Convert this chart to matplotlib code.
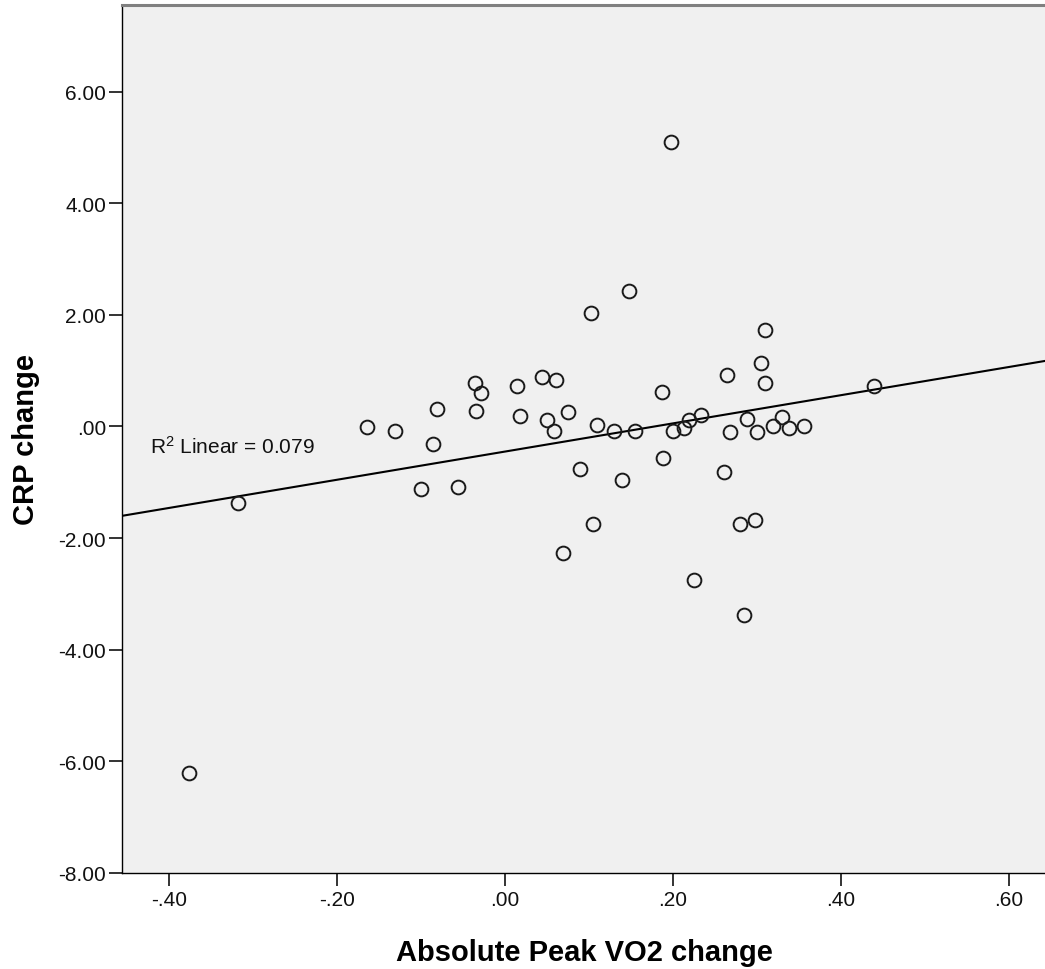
import numpy as np
import matplotlib
matplotlib.use("Agg")
import matplotlib.pyplot as plt
from matplotlib.ticker import FuncFormatter

plt.rcParams['font.family'] = ['Liberation Sans', 'DejaVu Sans']
plt.rcParams['mathtext.fontset'] = 'custom'
plt.rcParams['mathtext.rm'] = 'Liberation Sans'
plt.rcParams['mathtext.it'] = 'Liberation Sans'

# values
vo2_change = [-0.376, -0.318, -0.164, -0.130, -0.081, -0.085, -0.100, -0.055,
              -0.035, -0.028, -0.034, 0.015, 0.018, 0.045, 0.061, 0.051,
              0.059, 0.075, 0.110, 0.130, 0.155, 0.187, 0.200, 0.214,
              0.220, 0.234, 0.265, 0.305, 0.310, 0.310, 0.289, 0.268,
              0.300, 0.320, 0.330, 0.339, 0.357, 0.440, 0.090, 0.140,
              0.188, 0.261, 0.105, 0.070, 0.280, 0.298, 0.226, 0.285,
              0.198, 0.148, 0.103]
crp_change = [-6.21, -1.37, -0.01, -0.08, 0.31, -0.31, -1.12, -1.08,
              0.78, 0.60, 0.27, 0.73, 0.18, 0.88, 0.83, 0.11,
              -0.08, 0.25, 0.03, -0.08, -0.08, 0.62, -0.09, -0.02,
              0.12, 0.21, 0.92, 1.13, 1.72, 0.77, 0.13, -0.10,
              -0.10, 0.00, 0.17, -0.02, 0.00, 0.72, -0.76, -0.96,
              -0.56, -0.81, -1.75, -2.27, -1.75, -1.67, -2.75, -3.37,
              5.09, 2.43, 2.03]
r2_text = "R$^2$ Linear = 0.079"

x = np.array(vo2_change)
y = np.array(crp_change)

fig = plt.figure(figsize=(10.45, 9.70), dpi=100)
ax = fig.add_axes([0.1167, 0.099, 0.8843, 0.8948])
ax.set_facecolor('#f0f0f0')

ax.plot(x, y, 'o', ms=9.9, mfc='none', mec='#1a1a1a', mew=1.4, zorder=3)

# least squares fit line across the whole axis
xlim = (-0.4557, 0.6447)
slope, icpt = np.polyfit(x, y, 1)
xs = np.array(xlim)
ax.plot(xs, slope * xs + icpt, color='black', lw=1.5, zorder=2)

ax.set_xlim(*xlim)
ax.set_ylim(-8, 7.55)
ax.set_xticks(np.arange(-0.4, 0.61, 0.2))
ax.set_yticks(np.arange(-8, 6.1, 2))


def spss_fmt(v, pos):
    s = f"{v:.2f}"
    if s == "-0.00":
        s = "0.00"
    return s.replace("0.", ".", 1) if s.lstrip('-').startswith("0.") else s


ax.xaxis.set_major_formatter(FuncFormatter(spss_fmt))
ax.yaxis.set_major_formatter(FuncFormatter(spss_fmt))
ax.tick_params(axis='both', direction='out', length=9.5, width=1.4,
               color='#333333', labelsize=15, labelcolor='#111111')
ax.tick_params(axis='y', pad=2)
ax.tick_params(axis='x', pad=3)

for side in ('left', 'bottom'):
    ax.spines[side].set_color('black')
    ax.spines[side].set_linewidth(1.0)
ax.spines['right'].set_visible(False)
ax.spines['top'].set_color('#808080')
ax.spines['top'].set_linewidth(2.2)

ax.set_xlabel("Absolute Peak VO2 change", fontsize=21, fontweight='bold')
ax.set_ylabel("CRP change", fontsize=21, fontweight='bold')
ax.xaxis.set_label_coords(0.5, -0.0745)
ax.yaxis.set_label_coords(-0.089, 0.5)

ax.text(0.0303, 0.492, r2_text, transform=ax.transAxes, fontsize=15,
        ha='left', va='center', color='#111111')

fig.savefig("out.png", dpi=100, facecolor='white')
